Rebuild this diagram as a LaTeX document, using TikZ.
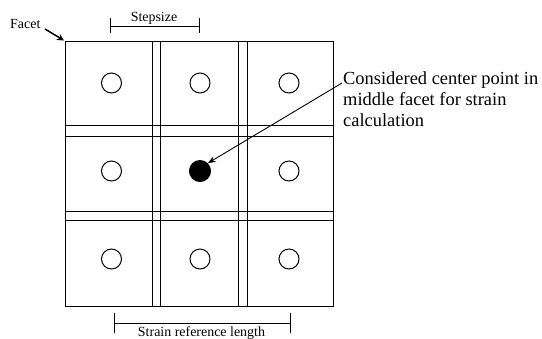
\documentclass[tikz,border=0pt]{standalone}
\usepackage{fontspec}
\setmainfont{Liberation Serif}
\usetikzlibrary{arrows.meta}
\begin{document}
\begin{tikzpicture}[x=1bp,y=-1bp,
  facetbox/.style={draw, line width=1bp, minimum size=95bp, inner sep=0pt, outer sep=0pt},
  ring/.style={draw, circle, line width=1bp, minimum size=20bp, inner sep=0pt},
  fulldot/.style={ring, fill=black, minimum size=21bp},
  bracketline/.style={line width=0.8bp},
  smalllabel/.style={font=\fontsize{14}{16}\selectfont, inner sep=0pt},
  biglabel/.style={font=\fontsize{18.5}{21}\selectfont, inner sep=0pt, align=left},
  pointer/.style={line width=0.9bp, -{Stealth[length=8bp,width=6bp]}},
  thickpointer/.style={line width=1.5bp, -{Stealth[length=7bp,width=7bp]}}]
\useasboundingbox (0,0) rectangle (542,338);
% facets (overlapping squares)
\foreach \c/\x in {1/113,2/199.5,3/286}{
  \foreach \r/\y in {1/88.5,2/173,3/258.5}{
    \node[facetbox] (f\r\c) at (\x,\y) {};
  }
}
% centre points
\foreach \c/\x in {1/111.5,2/200,3/289}{
  \foreach \r/\y in {1/83,3/259}{
    \node[ring] (p\r\c) at (\x,\y) {};
  }
}
\node[ring] (p21) at (111.5,171) {};
\node[ring] (p23) at (289,171) {};
\node[fulldot] (p22) at (200,171) {};
% Facet label
\node[smalllabel, anchor=base west] (facetlbl) at (10,28) {Facet};
\coordinate (facettip) at (64,40.5);
\coordinate (facetstart) at (45,29);
\draw[thickpointer] (facetstart) -- (facettip);
% Stepsize
\coordinate (s1) at (110,26);
\coordinate (s2) at (199,26);
\draw[bracketline] (s1) -- (s2);
\draw[bracketline] ([yshift=-7]s1) -- ([yshift=8]s1);
\draw[bracketline] ([yshift=-7]s2) -- ([yshift=8]s2);
\node[smalllabel, anchor=base] (steplbl) at (154,21) {Stepsize};
% Strain reference length
\coordinate (r1) at (114,323);
\coordinate (r2) at (290,323);
\draw[bracketline] (r1) -- (r2);
\draw[bracketline] ([yshift=-10]r1) -- ([yshift=10]r1);
\draw[bracketline] ([yshift=-10]r2) -- ([yshift=10]r2);
\node[smalllabel, anchor=base] (strainlbl) at (201.5,336) {Strain reference length};
% right label
\node[biglabel, anchor=north west] (centerlbl) at (343,72) {Considered center point in\\middle facet for strain\\calculation};
\coordinate (cstart) at (342,83);
\draw[pointer] (cstart) -- (p22.north east);
\end{tikzpicture}
\end{document}
